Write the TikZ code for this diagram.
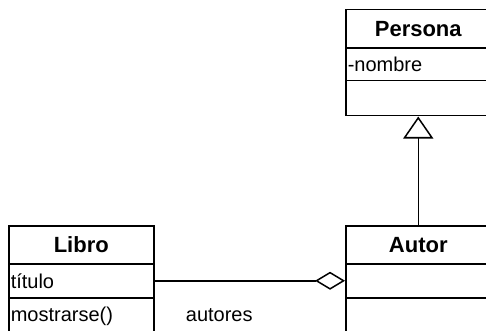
\documentclass[tikz,border=0pt]{standalone}
\usepackage{fontspec}
\setmainfont{Liberation Sans}
\usetikzlibrary{arrows.meta}

\begin{document}
\begin{tikzpicture}[x=1pt,y=-1pt,line width=1.5pt,
    head/.style={draw,rectangle,anchor=north west,inner sep=0pt,
      minimum width=#1,minimum height=38pt,
      font=\fontsize{22}{26}\selectfont\bfseries},
    row/.style={draw,rectangle,anchor=north west,inner sep=2pt,
      text width=141pt,align=left,minimum height=#1,
      font=\fontsize{20}{24}\selectfont}]
  \clip (0,0) rectangle (486,331);
  % Persona
  \node[head=145pt] (persona) at (345,9) {Persona};
  \node[row=32pt,text width=151pt] (personaattr) at (345,48) {-nombre};
  \node[row=35pt,text width=151pt] (personaops) at (345,80) {};
  % Libro
  \node[head=145pt] (libro) at (8,225) {Libro};
  \node[row=34pt] (libroattr) at (8,263) {título};
  \node[row=38pt] (libroops) at (8,297) {mostrarse()};
  % Autor
  \node[head=145pt] (autor) at (345,225) {Autor};
  \node[row=34pt,text width=151pt] (autorattr) at (345,263) {};
  \node[row=38pt,text width=151pt] (autorops) at (345,297) {};

  \draw[-{Diamond[open,length=30pt,width=18pt]}] (libroattr.east) -- (autorattr.west)
    node[pos=0.34,below=24pt,font=\fontsize{20}{24}\selectfont] {autores};
  \draw[-{Triangle[open,length=22pt,width=30pt]}] (autor.north) -- (autor.north |- personaops.south);
\end{tikzpicture}
\end{document}
